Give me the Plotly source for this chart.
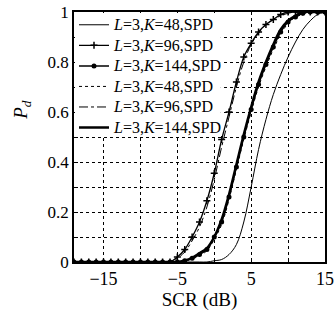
import plotly.graph_objects as go

scr_db = list(range(-19, 16))

label_txt = ["<i>L</i>=3,<i>K</i>=48,SPD", "<i>L</i>=3,<i>K</i>=96,SPD", "<i>L</i>=3,<i>K</i>=144,SPD",
             "<i>L</i>=3,<i>K</i>=48,SPD", "<i>L</i>=3,<i>K</i>=96,SPD", "<i>L</i>=3,<i>K</i>=144,SPD"]
names = ['<span style="font-size:16px">' + t + '</span>' for t in label_txt]

zeros = lambda n: [0.0] * n

pd_k48_solid = zeros(19) + [0.005, 0.01, 0.03, 0.07, 0.16, 0.30, 0.45, 0.57, 0.67, 0.75, 0.82, 0.88, 0.93, 0.965, 0.99, 1.0]
pd_k96_plus = zeros(14) + [0.02, 0.05, 0.10, 0.16, 0.245, 0.355, 0.49, 0.60, 0.72, 0.82, 0.875, 0.92, 0.95, 0.97, 0.99, 1.0, 1.0, 1.0, 1.0, 1.0, 1.0]
pd_k144_dot = zeros(15) + [0.005, 0.015, 0.03, 0.05, 0.10, 0.16, 0.26, 0.38, 0.50, 0.61, 0.71, 0.79, 0.86, 0.92, 0.96, 0.98, 0.995, 1.0, 1.0, 1.0]
pd_k48_dotted = zeros(15) + [0.004, 0.012, 0.025, 0.045, 0.09, 0.15, 0.25, 0.37, 0.49, 0.60, 0.70, 0.78, 0.85, 0.91, 0.955, 0.98, 0.99, 1.0, 1.0, 1.0]
pd_k96_dashdot = zeros(14) + [0.015, 0.04, 0.085, 0.14, 0.22, 0.33, 0.46, 0.58, 0.70, 0.80, 0.87, 0.915, 0.95, 0.97, 0.985, 0.995, 1.0, 1.0, 1.0, 1.0, 1.0]
pd_k144_thick = zeros(15) + [0.006, 0.017, 0.035, 0.055, 0.10, 0.17, 0.27, 0.39, 0.51, 0.62, 0.72, 0.80, 0.87, 0.93, 0.965, 0.985, 1.0, 1.0, 1.0, 1.0]

x_tickvals = [-15, -10, -5, 0, 5, 10, 15]
x_ticktext = ["\u221215", "", "\u22125", "", "5", "", "15"]
y_tickvals = [0, 0.1, 0.2, 0.3, 0.4, 0.5, 0.6, 0.7, 0.8, 0.9, 1.0]
y_ticktext = ["0", "", "0.2", "", "0.4", "", "0.6", "", "0.8", "", "1"]

FONT = "Liberation Serif, Times New Roman, serif"

fig = go.Figure()
fig.add_trace(go.Scatter(x=scr_db, y=pd_k48_solid, name=names[0], mode="lines",
                         line=dict(color="black", width=1, shape="spline")))
fig.add_trace(go.Scatter(x=scr_db, y=pd_k96_plus, name=names[1], mode="lines+markers",
                         line=dict(color="black", width=1.3, shape="spline"),
                         marker=dict(symbol="cross-thin", size=5, line=dict(color="black", width=1.5))))
fig.add_trace(go.Scatter(x=scr_db, y=pd_k144_dot, name=names[2], mode="lines+markers",
                         line=dict(color="black", width=1.5, shape="spline"),
                         marker=dict(symbol="circle", size=5, color="black")))
fig.add_trace(go.Scatter(x=scr_db, y=pd_k48_dotted, name=names[3], mode="lines",
                         line=dict(color="black", width=1, dash="dot", shape="spline")))
fig.add_trace(go.Scatter(x=scr_db, y=pd_k96_dashdot, name=names[4], mode="lines",
                         line=dict(color="black", width=1, dash="dashdot", shape="spline")))
fig.add_trace(go.Scatter(x=scr_db, y=pd_k144_thick, name=names[5], mode="lines",
                         line=dict(color="black", width=2.5, shape="spline")))

fig.update_layout(
    width=336, height=317,
    margin=dict(l=74, r=11, t=12, b=55, autoexpand=False),
    paper_bgcolor="white", plot_bgcolor="white",
    font=dict(family=FONT, size=17, color="black"),
    showlegend=True,
    legend=dict(x=0, y=1.01, xanchor="left", yanchor="top",
                bgcolor="rgba(0,0,0,0)", borderwidth=0,
                font=dict(family=FONT, size=13.5, color="black"),
                itemwidth=30, tracegroupgap=0),
    shapes=[dict(type="rect", xref="paper", yref="paper",
                 x0=0.004, x1=0.585, y0=0.5, y1=0.996,
                 fillcolor="white", line=dict(width=0), layer="above")],
    xaxis=dict(range=[-19, 15], tickvals=x_tickvals, ticktext=x_ticktext,
               showgrid=True, gridcolor="black", griddash="dot", gridwidth=1,
               showline=True, linecolor="black", linewidth=1.5, mirror=True,
               ticks="inside", ticklen=4, tickcolor="black", zeroline=False,
               title=dict(text="SCR (dB)", font=dict(family=FONT, size=19), standoff=4),
               tickfont=dict(family=FONT, size=18), ticklabeloverflow="allow"),
    yaxis=dict(range=[0, 1], tickvals=y_tickvals, ticktext=y_ticktext,
               showgrid=True, gridcolor="black", griddash="dot", gridwidth=1,
               showline=True, linecolor="black", linewidth=1.5, mirror=True,
               ticks="inside", ticklen=4, tickcolor="black", zeroline=False,
               tickfont=dict(family=FONT, size=17), ticklabeloverflow="allow"),
    annotations=[dict(text="<i>P<sub>d</sub></i>", xref="paper", yref="paper",
                      x=-0.21, y=0.61, xanchor="center", yanchor="middle",
                      textangle=-90, showarrow=False,
                      font=dict(family=FONT, size=19, color="black"))],
)

# remove the browser's default 8px body margin so the figure fills the window exactly
fig.write_html("out.html", config={"displayModeBar": False},
               post_script="document.body.style.margin='0';")
